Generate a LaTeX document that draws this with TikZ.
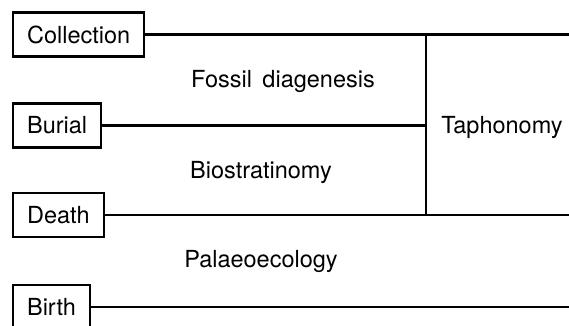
\documentclass[tikz,border=0pt]{standalone}
\usepackage{fontspec}
\setmainfont{TeX Gyre Heros}
\begin{document}
\begin{tikzpicture}[x=1pt,y=-1pt,
  stage/.style={draw,line width=2.2pt,minimum height=44pt,inner xsep=14pt,inner ysep=0pt,anchor=west,font=\fontsize{23.5}{28}\selectfont},
  lbl/.style={font=\fontsize{23.5}{28}\selectfont},
  conn/.style={line width=2.2pt}]
\useasboundingbox (0,0) rectangle (569,325);
\node[stage] (coll) at (12,34.5) {Collection};
\node[stage] (bur) at (12,125.5) {Burial};
\node[stage] (dea) at (12,215) {Death};
\node[stage] (bir) at (12,307) {Birth};
\coordinate (collE) at (569,34.5);
\coordinate (burE) at (426,125.5);
\coordinate (deaE) at (569,215);
\coordinate (birE) at (569,307);
\coordinate (vtop) at (426,34.5);
\coordinate (vbot) at (426,215);
\draw[conn] (coll.east) -- (collE);
\draw[conn] (bur.east) -- (burE);
\draw[conn] (dea.east) -- (deaE);
\draw[conn] (bir.east) -- (birE);
\draw[conn] (vtop) -- (vbot);
\node[lbl] (fd) at (283,81) {Fossil\, diagenesis};
\node[lbl] (bio) at (261,172) {Biostratinomy};
\node[lbl] (pal) at (261,261) {Palaeoecology};
\node[lbl] (tap) at (502,127) {Taphonomy};
\end{tikzpicture}
\end{document}
